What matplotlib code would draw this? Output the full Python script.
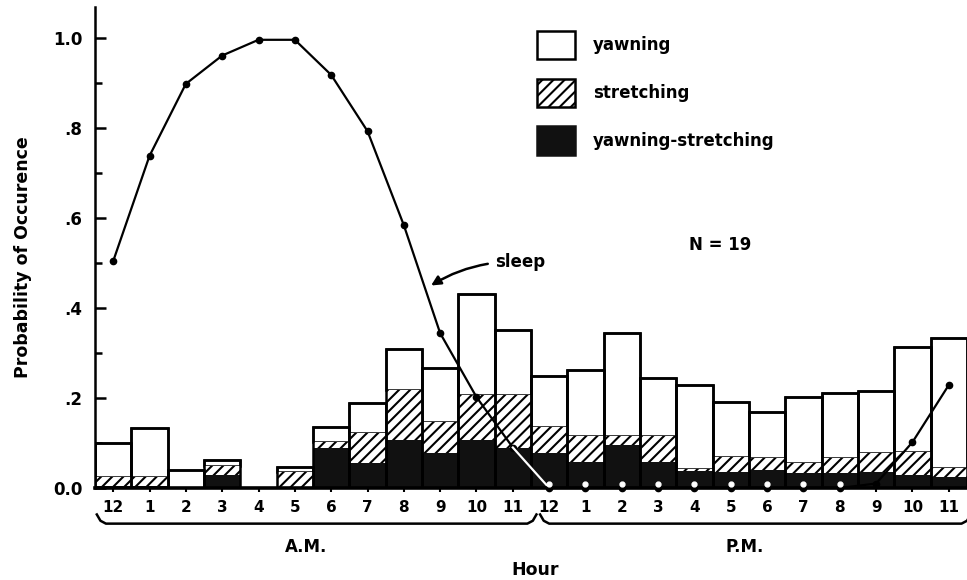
import numpy as np
import matplotlib
matplotlib.use("Agg")
import matplotlib.pyplot as plt
from matplotlib.patches import Patch
from matplotlib.transforms import blended_transform_factory


HOUR_LABELS = ["12", "1", "2", "3", "4", "5", "6", "7", "8", "9", "10", "11",
               "12", "1", "2", "3", "4", "5", "6", "7", "8", "9", "10", "11"]

# stacked tops (cumulative heights)
total = [0.10, 0.133, 0.04, 0.062, 0.0, 0.047, 0.136, 0.19, 0.309, 0.267, 0.431, 0.351,
         0.249, 0.262, 0.344, 0.244, 0.229, 0.191, 0.169, 0.202, 0.211, 0.216, 0.313, 0.333]
stretch_top = [0.025, 0.025, 0.0, 0.05, 0.0, 0.036, 0.102, 0.122, 0.218, 0.147, 0.207, 0.207,
               0.136, 0.116, 0.116, 0.116, 0.042, 0.069, 0.067, 0.056, 0.067, 0.078, 0.08, 0.044]
both_top = [0.005, 0.005, 0.0, 0.03, 0.0, 0.0, 0.09, 0.055, 0.107, 0.077, 0.107, 0.09,
            0.077, 0.058, 0.095, 0.058, 0.037, 0.036, 0.04, 0.033, 0.033, 0.035, 0.03, 0.025]

sleep = [0.504, 0.738, 0.898, 0.961, 0.996, 0.996, 0.918, 0.793, 0.584, 0.344, 0.202, 0.09,
         0.0, 0.0, 0.0, 0.0, 0.0, 0.0, 0.0, 0.0, 0.0, 0.01, 0.102, 0.229]


def main() -> None:
    plt.rcParams["font.family"] = "DejaVu Sans"
    plt.rcParams["font.weight"] = "bold"
    plt.rcParams["hatch.linewidth"] = 1.5

    x = np.arange(len(HOUR_LABELS))
    tot = np.array(total)
    st = np.array(stretch_top)
    bo = np.array(both_top)
    sl = np.array(sleep)

    fig = plt.figure(figsize=(9.67, 5.8), dpi=100)
    ax = fig.add_axes([95 / 967, 92 / 580, 872 / 967, 481.5 / 580])

    # yawning (white) on top, stretching (hatched) in the middle, both (black) at bottom
    ax.bar(x, tot - st, bottom=st, width=1.0, color="white", edgecolor="black", linewidth=1.8,
           label="yawning", zorder=2)
    ax.bar(x, st - bo, bottom=bo, width=1.0, color="white", edgecolor="black", linewidth=0,
           hatch="///", label="stretching", zorder=2)
    ax.bar(x, bo, width=1.0, color="#111111", edgecolor="#111111", linewidth=0,
           label="yawning-stretching", zorder=2)
    # outline the whole stack again
    ax.bar(x, tot, width=1.0, fill=False, edgecolor="black", linewidth=1.8, zorder=3)

    # sleep curve
    ax.plot(x, sl, color="black", lw=1.6, marker="o", ms=4.5, zorder=4, clip_on=False)
    first_zero = int(np.argmax(sl == 0))
    ax.plot(x[first_zero - 1:first_zero + 1], sl[first_zero - 1:first_zero + 1],
            color="white", lw=1.6, zorder=5)
    zero = sl == 0
    ax.plot(x[zero], sl[zero] + 0.008, "o", color="white", ms=3.5, zorder=6, clip_on=False)

    ax.set_xlim(-0.5, 23.5)
    ax.set_ylim(0, 1.07)

    for side in ["top", "right"]:
        ax.spines[side].set_visible(False)
    ax.spines["left"].set_linewidth(1.8)
    ax.spines["bottom"].set_linewidth(2.6)
    ax.spines["bottom"].set_zorder(5)

    ax.set_yticks([0.0, 0.2, 0.4, 0.6, 0.8, 1.0])
    ax.set_yticklabels(["0.0", ".2", ".4", ".6", ".8", "1.0"], fontsize=12, fontweight="bold")
    ax.set_yticks([0.1, 0.3, 0.5, 0.7, 0.9], minor=True)
    ax.tick_params(axis="y", which="major", direction="in", length=8, width=1.8, pad=9)
    ax.tick_params(axis="y", which="minor", direction="in", length=5, width=1.8)

    ax.set_xticks(x)
    ax.set_xticklabels(HOUR_LABELS, fontsize=11, fontweight="bold")
    ax.tick_params(axis="x", direction="out", length=3, width=1.5, pad=6)

    ax.set_ylabel("Probability of Occurence", fontsize=12.5, fontweight="bold")
    ax.yaxis.set_label_coords(-0.072, 0.48)

    # A.M. / P.M. brackets below the hour labels
    tr = blended_transform_factory(ax.transData, ax.transAxes)
    y_line, y_end = -0.074, -0.055
    for x0, x1, name in [(-0.45, 11.65, "A.M."), (11.75, 23.6, "P.M.")]:
        ax.plot([x0, x0 + 0.1, x0 + 0.25, x1 - 0.25, x1 - 0.1, x1],
                [y_end, y_line + 0.006, y_line, y_line, y_line + 0.006, y_end],
                color="black", lw=1.8, transform=tr, clip_on=False)
        ax.text((x0 + x1) / 2 - 0.3, -0.123, name, transform=tr, ha="center", va="center",
                fontsize=12, fontweight="bold")
    ax.text(11.6, -0.171, "Hour", transform=tr, ha="center", va="center",
            fontsize=12.5, fontweight="bold")

    ax.annotate("sleep", xy=(8.75, 0.45), xytext=(10.5, 0.503),
                fontsize=12, fontweight="bold", va="center", ha="left",
                arrowprops=dict(arrowstyle="-|>", color="black", lw=1.8,
                                connectionstyle="arc3,rad=0.15", shrinkA=3, shrinkB=0,
                                mutation_scale=14))
    ax.text(16.7, 0.54, "N = 19", fontsize=12, fontweight="bold", ha="center", va="center")

    handles = [
        Patch(facecolor="white", edgecolor="black", linewidth=1.8, label="yawning"),
        Patch(facecolor="white", edgecolor="black", linewidth=1.8, hatch="///", label="stretching"),
        Patch(facecolor="#111111", edgecolor="#111111", linewidth=1.8, label="yawning-stretching"),
    ]
    fig.legend(handles=handles, loc="upper left", bbox_to_anchor=(537 / 967, 1 - 31 / 580),
               frameon=False, borderpad=0, borderaxespad=0, handlelength=2.25, handleheight=2.25,
               handletextpad=1.1, labelspacing=1.15, prop={"size": 12, "weight": "bold"})

    fig.savefig("out.png", dpi=100)
    plt.close(fig)


if __name__ == "__main__":
    main()
